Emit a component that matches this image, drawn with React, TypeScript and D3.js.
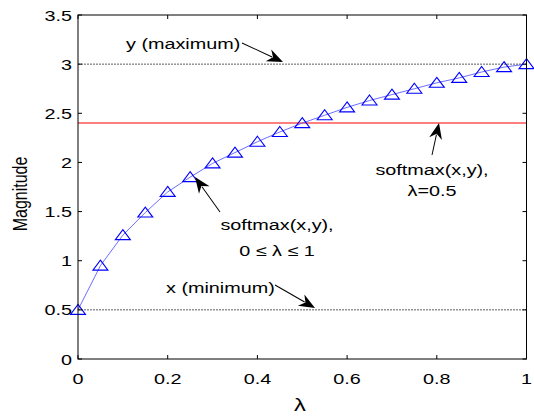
import React from "react";
import * as d3 from "d3";

const lambdas = [0, 0.05, 0.1, 0.15, 0.2, 0.25, 0.3, 0.35, 0.4, 0.45, 0.5, 0.55, 0.6, 0.65, 0.7, 0.75, 0.8, 0.85, 0.9, 0.95, 1.0];
const softmaxValues = [0.5, 0.95, 1.26, 1.49, 1.7, 1.85, 1.99, 2.1, 2.21, 2.31, 2.4, 2.48, 2.56, 2.63, 2.69, 2.75, 2.81, 2.86, 2.92, 2.97, 3.0];
const maxValue = 3.0;
const minValue = 0.5;
const halfValue = 2.4;
const xTicks = [0, 0.2, 0.4, 0.6, 0.8, 1];
const yTicks = [0, 0.5, 1, 1.5, 2, 2.5, 3, 3.5];

const W = 534, H = 418;
const L = 78, R = 526.5, T = 15, B = 359;
const SX = 1.32;
const FONT = "'Liberation Sans', Arial, Helvetica, sans-serif";

const x = d3.scaleLinear().domain([0, 1]).range([L, R]);
const y = d3.scaleLinear().domain([0, 3.5]).range([B, T]);

function fmt(v: number) {
  return d3.format("~g")(v);
}

function Txt({ x: tx, y: ty, anchor = "start", size = 15, children }: any) {
  return (
    <g transform={`translate(${tx},${ty}) scale(${SX},1)`}>
      <text x={0} y={0} textAnchor={anchor} fontSize={size} fontFamily={FONT} fill="#000">
        {children}
      </text>
    </g>
  );
}

function Arrow({ x1, y1, x2, y2 }: any) {
  const ang = (Math.atan2(y2 - y1, x2 - x1) * 180) / Math.PI;
  const len = Math.hypot(x2 - x1, y2 - y1);
  const hl = 16, hw = 6.5;
  return (
    <g transform={`translate(${x1},${y1}) rotate(${ang})`}>
      <line x1={0} y1={0} x2={len - hl + 4} y2={0} stroke="#000" strokeWidth={1} />
      <path d={`M${len},0 L${len - hl},${-hw} L${len - hl + 5},0 L${len - hl},${hw} Z`} fill="#000" />
    </g>
  );
}

export default function App() {
  const line = d3.line<number>().x((_, i) => x(lambdas[i])).y((d) => y(d));
  const tri = (cx: number, cy: number) =>
    `M${cx},${cy - 5.5} L${cx + 7.5},${cy + 4.5} L${cx - 7.5},${cy + 4.5} Z`;
  return (
    <svg width={W} height={H} style={{ position: "absolute", left: 0, top: 0, background: "#fff" }}>
      <rect x={0} y={0} width={W} height={H} fill="#fff" />
      {/* reference lines */}
      <line x1={L} x2={R} y1={y(maxValue)} y2={y(maxValue)} stroke="#333" strokeWidth={0.8} strokeDasharray="2,1" />
      <line x1={L} x2={R} y1={y(minValue)} y2={y(minValue)} stroke="#333" strokeWidth={0.8} strokeDasharray="2,1" />
      <line x1={L} x2={R} y1={y(halfValue)} y2={y(halfValue)} stroke="#ff5555" strokeWidth={1.5} />
      {/* curve */}
      <path d={line(softmaxValues) || ""} fill="none" stroke="#5c5cff" strokeWidth={0.9} />
      {softmaxValues.map((v, i) => (
        <path key={i} d={tri(x(lambdas[i]), y(v))} fill="none" stroke="#0000ff" strokeWidth={1.1} />
      ))}
      {/* axes box */}
      <rect x={L} y={T} width={R - L} height={B - T} fill="none" stroke="#000" strokeWidth={1} />
      {xTicks.map((t) => (
        <g key={"x" + t}>
          <line x1={x(t)} x2={x(t)} y1={B} y2={B - 4} stroke="#000" />
          <line x1={x(t)} x2={x(t)} y1={T} y2={T + 4} stroke="#000" />
          <Txt x={x(t)} y={384} anchor="middle">{fmt(t)}</Txt>
        </g>
      ))}
      {yTicks.map((t) => (
        <g key={"y" + t}>
          <line x1={L} x2={L + 4} y1={y(t)} y2={y(t)} stroke="#000" />
          <line x1={R} x2={R - 4} y1={y(t)} y2={y(t)} stroke="#000" />
          <Txt x={72} y={y(t) + 5.5} anchor="end">{fmt(t)}</Txt>
        </g>
      ))}
      {/* axis labels */}
      <Txt x={300} y={411} anchor="middle" size={18}>λ</Txt>
      <g transform={`translate(27,194) scale(${SX},1) rotate(-90)`}>
        <text x={0} y={0} textAnchor="middle" fontSize={16} fontFamily={FONT}>Magnitude</text>
      </g>
      {/* annotations */}
      <Txt x={126} y={49}>y (maximum)</Txt>
      <Arrow x1={242} y1={43} x2={283} y2={62} />
      <Txt x={166} y={293}>x (minimum)</Txt>
      <Arrow x1={275} y1={285} x2={315} y2={308} />
      <Txt x={277} y={230} anchor="middle">softmax(x,y),</Txt>
      <Txt x={277} y={256} anchor="middle">0 ≤ λ ≤ 1</Txt>
      <Arrow x1={220} y1={212} x2={195} y2={177} />
      <Txt x={432} y={175} anchor="middle">softmax(x,y),</Txt>
      <Txt x={432} y={196} anchor="middle">λ=0.5</Txt>
      <Arrow x1={432} y1={155} x2={439} y2={123} />
    </svg>
  );
}
